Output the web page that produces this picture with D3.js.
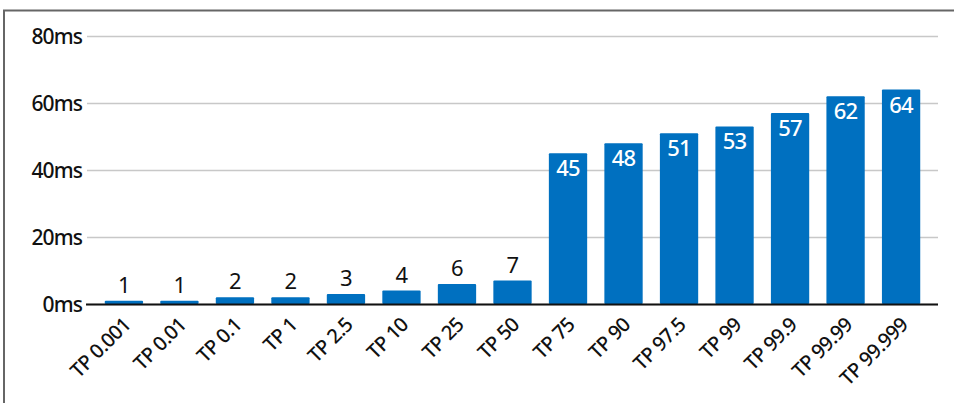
<!DOCTYPE html>
<html>
<head>
<meta charset="utf-8">
<script src="https://cdn.jsdelivr.net/npm/d3@7"></script>
<style>
  html, body { margin: 0; padding: 0; background: #fff; }
  svg { display: block; }
  text { font-family: "Noto Sans", sans-serif; }
</style>
</head>
<body>
<svg id="chart" width="954" height="403"></svg>
<script>
// Latency percentiles (ms)
const categories = ["TP 0.001", "TP 0.01", "TP 0.1", "TP 1", "TP 2.5", "TP 10", "TP 25", "TP 50",
                    "TP 75", "TP 90", "TP 97.5", "TP 99", "TP 99.9", "TP 99.99", "TP 99.999"];
const latency = [1, 1, 2, 2, 3, 4, 6, 7, 45, 48, 51, 53, 57, 62, 64];
const yTicks = [0, 20, 40, 60, 80];

const W = 954, H = 403;
const svg = d3.select("#chart");

// outer frame (top and left edges)
svg.append("path")
  .attr("d", `M4,${H} V10.5 H${W}`)
  .attr("fill", "none")
  .attr("stroke", "#666")
  .attr("stroke-width", 2);

const x = d3.scaleBand()
  .domain(categories)
  .range([87, 938])
  .paddingInner(0.31)
  .paddingOuter(0.32);

const y = d3.scaleLinear()
  .domain([0, 80])
  .range([304, 36]);

// horizontal gridlines with tick labels
const yAxis = d3.axisLeft(y)
  .tickValues(yTicks)
  .tickSize(-(938 - 87))
  .tickPadding(6)
  .tickFormat(d => d + "ms");

const gy = svg.append("g")
  .attr("transform", "translate(87,0)")
  .call(yAxis);
gy.select(".domain").remove();
gy.selectAll(".tick line")
  .attr("stroke", "#c8c8c8")
  .attr("stroke-width", 1.5);
gy.selectAll(".tick text")
  .attr("x", -5)
  .attr("dy", "0.36em")
  .attr("fill", "#111")
  .style("font-size", "21px")
  .style("font-weight", 500)
  .style("letter-spacing", "-0.9px");

// bars
svg.append("g")
  .selectAll("rect")
  .data(latency)
  .join("rect")
  .attr("x", (d, i) => x(categories[i]))
  .attr("y", d => y(d))
  .attr("width", x.bandwidth())
  .attr("height", d => y(0) - y(d))
  .attr("rx", 1)
  .attr("fill", "#0070c0");

// baseline axis
const xAxis = d3.axisBottom(x).tickSize(0).tickPadding(0);
const gx = svg.append("g")
  .attr("transform", `translate(0,${y(0)})`)
  .call(xAxis);
gx.select(".domain")
  .attr("d", `M86,0.5H938`)
  .attr("stroke", "#111")
  .attr("stroke-width", 2.2);
gx.selectAll(".tick text")
  .attr("text-anchor", "end")
  .attr("dy", "0")
  .attr("transform", "translate(8,22) rotate(-45)")
  .attr("fill", "#111")
  .style("font-size", "20px")
  .style("font-weight", 500)
  .style("letter-spacing", "-0.6px");

// value labels: above short bars, inside tall ones
svg.append("g")
  .selectAll("text")
  .data(latency)
  .join("text")
  .attr("x", (d, i) => x(categories[i]) + x.bandwidth() / 2)
  .attr("y", d => d > 20 ? y(d) + 23 : y(d) - 8)
  .attr("text-anchor", "middle")
  .attr("fill", d => d > 20 ? "#fff" : "#111")
  .style("font-size", "22px")
  .style("font-weight", d => d > 20 ? 500 : 400)
  .style("letter-spacing", "-0.8px")
  .text(d => d);
</script>
</body>
</html>
